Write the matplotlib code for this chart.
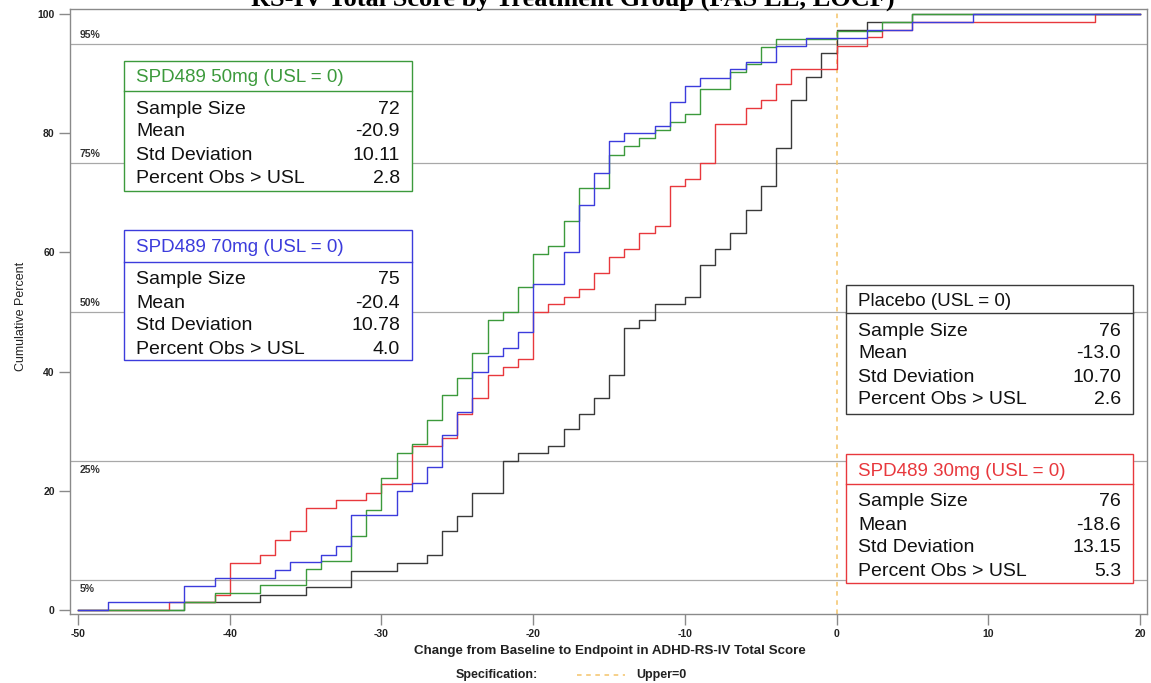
import matplotlib as mpl
mpl.use('Agg')
import matplotlib.pyplot as plt
from matplotlib.patches import Rectangle
from matplotlib.lines import Line2D

plt.rcParams['axes.unicode_minus'] = False

W, H = 1151, 683

# ECDF jump points (change score) and cumulative percent after each jump
red_x = [-44, -41, -40, -38, -37, -36, -35, -33, -31, -30, -28, -26, -25, -24, -23, -22, -21, -20,
         -19, -18, -17, -16, -15, -14, -13, -12, -11, -10, -9, -8, -6, -5, -4, -3, 0, 2, 3, 5, 17]
red_y = [1.3, 2.6, 7.9, 9.2, 11.8, 13.2, 17.1, 18.4, 19.7, 21.1, 27.6, 28.9, 32.9, 35.5, 39.5, 40.8,
         42.1, 50.0, 51.3, 52.6, 53.9, 56.6, 59.2, 60.5, 63.2, 64.5, 71.1, 72.4, 75.0, 81.6, 84.2,
         85.5, 88.2, 90.8, 94.7, 96.1, 97.4, 98.7, 100]

green_x = [-43, -41, -38, -35, -34, -32, -31, -30, -29, -28, -27, -26, -25, -24, -23, -22, -21, -20,
           -19, -18, -17, -15, -14, -13, -12, -11, -10, -9, -7, -6, -5, -4, 0, 3, 5]
green_y = [1.4, 2.8, 4.2, 6.9, 8.3, 12.5, 16.7, 22.2, 26.4, 27.8, 31.9, 36.1, 38.9, 43.1, 48.6, 50.0,
           54.2, 59.7, 61.1, 65.3, 70.8, 76.4, 77.8, 79.2, 80.6, 81.9, 83.3, 87.5, 90.3, 91.7, 94.4,
           95.8, 97.2, 98.6, 100]

blue_x = [-48, -43, -41, -37, -36, -34, -33, -32, -29, -28, -27, -26, -25, -24, -23, -22, -21, -20,
          -18, -17, -16, -15, -14, -12, -11, -10, -9, -7, -6, -4, -2, 2, 5, 9]
blue_y = [1.3, 4.0, 5.3, 6.7, 8.0, 9.3, 10.7, 16.0, 20.0, 21.3, 24.0, 29.3, 33.3, 40.0, 42.7, 44.0,
          46.7, 54.7, 60.0, 68.0, 73.3, 78.7, 80.0, 81.3, 85.3, 88.0, 89.3, 90.7, 92.0, 94.7, 96.0,
          97.3, 98.7, 100]

black_x = [-43, -38, -35, -32, -29, -27, -26, -25, -24, -22, -21, -19, -18, -17, -16, -15, -14, -13,
           -12, -10, -9, -8, -7, -6, -5, -4, -3, -2, -1, 0, 2, 5]
black_y = [1.3, 2.6, 3.9, 6.6, 7.9, 9.2, 13.2, 15.8, 19.7, 25.0, 26.3, 27.6, 30.3, 32.9, 35.5, 39.5,
           47.4, 48.7, 51.3, 52.6, 57.9, 60.5, 63.2, 67.1, 71.1, 77.6, 85.5, 89.5, 93.4, 97.4, 98.7, 100]

ref_pcts = [5, 25, 50, 75, 95]

stat_labels = ['Sample Size', 'Mean', 'Std Deviation', 'Percent Obs > USL']
groups = ['Placebo', 'SPD489 30mg', 'SPD489 50mg', 'SPD489 70mg']
stat_values = {
    'Placebo': ['76', '-13.0', '10.70', '2.6'],
    'SPD489 30mg': ['76', '-18.6', '13.15', '5.3'],
    'SPD489 50mg': ['72', '-20.9', '10.11', '2.8'],
    'SPD489 70mg': ['75', '-20.4', '10.78', '4.0'],
}

C_RED = '#e8383d'
C_GREEN = '#3c9a3c'
C_BLUE = '#3c3cdc'
C_BLACK = '#3a3a3a'
C_GRID = '#a8a8a8'
C_SPEC = '#f4c46a'

sans = ['Liberation Sans', 'DejaVu Sans']
narrow = ['Liberation Sans Narrow', 'Liberation Sans', 'DejaVu Sans']


def fx(x):
    return x / W


def fy(y):
    return 1 - y / H


fig = plt.figure(figsize=(W / 100, H / 100), dpi=100)
ax = fig.add_axes([fx(70), fy(614), fx(1147) - fx(70), fy(9) - fy(614)])
ax.set_xlim(-50.53, 20.46)
ax.set_ylim(-0.67, 100.85)

for sp in ax.spines.values():
    sp.set_color('#8a8a8a')
    sp.set_linewidth(1.0)

# reference percent lines
for p in ref_pcts:
    ax.axhline(p, color=C_GRID, lw=0.9, zorder=1)
    if p >= 50:
        ax.annotate('%d%%' % p, (-50, p), xytext=(1, 3), textcoords='offset points',
                    ha='left', va='bottom', fontsize=7.5, fontweight='bold',
                    family=sans, color='#333333')
    else:
        ax.annotate('%d%%' % p, (-50, p), xytext=(1, -3), textcoords='offset points',
                    ha='left', va='top', fontsize=7.5, fontweight='bold',
                    family=sans, color='#333333')

ax.axvline(0, color=C_SPEC, lw=1.1, ls=(0, (3, 3)), zorder=1)

curves = [(black_x, black_y, C_BLACK), (red_x, red_y, C_RED),
          (green_x, green_y, C_GREEN), (blue_x, blue_y, C_BLUE)]
for xs, ys, c in curves:
    ax.step([-50] + xs + [20], [0] + ys + [100], where='post', color=c, lw=1.0, zorder=3)

ax.set_xticks(range(-50, 21, 10))
ax.set_yticks(range(0, 101, 20))
ax.tick_params(direction='out', length=8, width=1, color='#8a8a8a', labelsize=7.5, pad=3)
for lab in ax.get_xticklabels() + ax.get_yticklabels():
    lab.set_family(sans)
    lab.set_fontweight('bold')
    lab.set_color('#222222')

# labels
fig.text(fx(610), fy(651), 'Change from Baseline to Endpoint in ADHD-RS-IV Total Score',
         ha='center', va='center', fontsize=9.6, fontweight='bold', family=sans, color='#222222')
fig.text(fx(21), fy(316), 'Cumulative Percent', rotation=90, ha='center', va='center',
         fontsize=9, family=narrow, color='#222222')
fig.text(fx(573), fy(6), 'RS-IV Total Score by Treatment Group (FAS LL, LOCF)',
         ha='center', va='baseline', fontsize=19, fontweight='bold',
         family=['Liberation Serif', 'DejaVu Serif'], color='black')

# specification legend
fig.text(fx(538), fy(675), 'Specification:', ha='right', va='center', fontsize=9,
         fontweight='bold', family=sans, color='#222222')
fig.add_artist(Line2D([fx(577), fx(625)], [fy(675), fy(675)], color=C_SPEC, lw=1.1,
                      ls=(0, (3, 3)), transform=fig.transFigure))
fig.text(fx(636), fy(675), 'Upper=0', ha='left', va='center', fontsize=9,
         fontweight='bold', family=sans, color='#222222')

# statistics boxes (left, top, right, bottom, header line) in pixels
boxes = {
    'SPD489 50mg': ((124, 61, 412, 191, 91), C_GREEN),
    'SPD489 70mg': ((124, 230, 412, 360, 262), C_BLUE),
    'Placebo': ((846, 285, 1133, 414, 313), C_BLACK),
    'SPD489 30mg': ((846, 454, 1133, 583, 484), C_RED),
}
for g in groups:
    (l, t, r, b, hl), c = boxes[g]
    fig.add_artist(Rectangle((fx(l), fy(b)), fx(r) - fx(l), fy(t) - fy(b), fill=True,
                             facecolor='white', edgecolor=c, lw=1.0,
                             transform=fig.transFigure, zorder=5))
    fig.add_artist(Line2D([fx(l), fx(r)], [fy(hl), fy(hl)], color=c, lw=1.0,
                          transform=fig.transFigure, zorder=6))
    tc = c if g != 'Placebo' else '#111111'
    fig.text(fx(l + 12), fy((t + hl) / 2 + 2), g + ' (USL = 0)', ha='left', va='center',
             fontsize=13.5, family=sans, color=tc, zorder=7)
    for i, (lab, val) in enumerate(zip(stat_labels, stat_values[g])):
        yy = hl + 18 + i * 23
        fig.text(fx(l + 12), fy(yy), lab, ha='left', va='center', fontsize=14,
                 family=sans, color='#111111', zorder=7)
        fig.text(fx(r - 12), fy(yy), val, ha='right', va='center', fontsize=14,
                 family=sans, color='#111111', zorder=7)

fig.savefig('out.png', dpi=100)
